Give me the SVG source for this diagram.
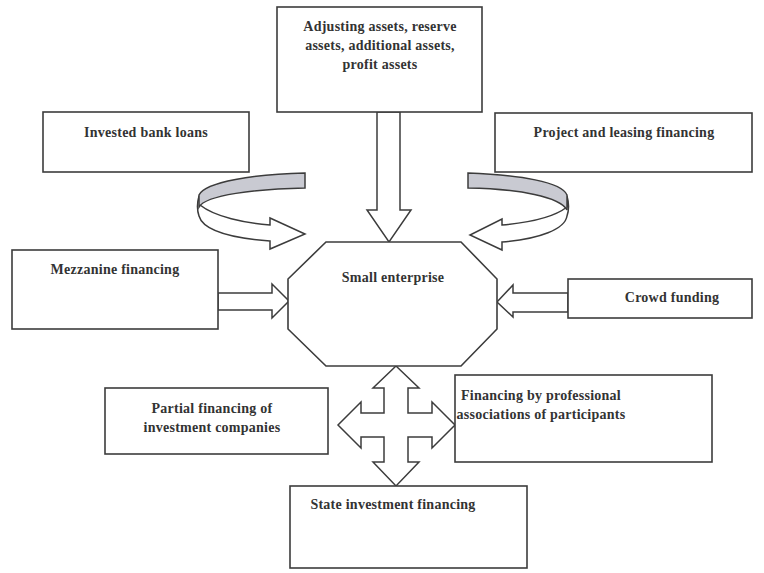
<svg xmlns="http://www.w3.org/2000/svg" width="764" height="573" viewBox="0 0 764 573">
<style>
.box{fill:#fff;stroke:#3c3c3c;stroke-width:1.6}
.ar{fill:#fff;stroke:#3c3c3c;stroke-width:1.5;stroke-linejoin:miter}
.band{fill:#c9cad2;stroke:#3c3c3c;stroke-width:1.5}
text{font-family:"Liberation Serif","Times New Roman",serif;font-weight:bold;font-size:14px;letter-spacing:0.25px;fill:#333;text-anchor:middle}
</style>
<rect width="764" height="573" fill="#fff"/>
<g id="connectors">
<path class="ar" d="M377,112 L400,112 L400,210 L411,210 L389,242 L367,210 L377,210 Z"/>
<path class="ar" d="M218,293 L272,293 L272,284 L289,301 L272,318 L272,310 L218,310 Z"/>
<path class="ar" d="M568,293 L513,293 L513,285 L497,302 L513,317 L513,312 L568,312 Z"/>
<path class="ar" d="M396,366 L419,388 L408,388 L408,413 L432,413 L432,402 L455,425 L432,448 L432,437 L408,437 L408,462 L419,462 L396,486 L373,462 L384,462 L384,437 L361,437 L361,448 L338,425 L361,402 L361,413 L384,413 L384,388 L373,388 Z"/>
<g id="curve-left">
<path class="ar" d="M200,205 C215,217 245,223 270,225 L270,218 L305,234 L270,249 L270,241 C230,238 203,230 199,216 C197,210 197,203 199,196 Z"/>
<path class="band" d="M305,173 C255,174 205,182 199,195 L199,207 C206,195 255,189 305,188 Z"/>
</g>
<g id="curve-right">
<path class="ar" d="M567,207 C553,218 525,223 502,225 L502,219 L470,235 L502,250 L502,242 C540,239 565,229 567,216 C569,210 569,203 567,196 Z"/>
<path class="band" d="M468,173 C520,175 562,182 567,195 L567,210 C560,197 520,189 468,188 Z"/>
</g>
</g>
<g id="top-box"><rect class="box" x="277" y="7" width="205" height="105"/>
<text x="380" y="31">Adjusting assets, reserve</text>
<text x="380" y="50">assets, additional assets,</text>
<text x="380" y="69">profit assets</text></g>
<g id="invested-bank-loans"><rect class="box" x="43" y="112" width="206" height="60"/>
<text x="146" y="137">Invested bank loans</text></g>
<g id="project-leasing"><rect class="box" x="495" y="113" width="257" height="59"/>
<text x="624" y="137">Project and leasing financing</text></g>
<g id="mezzanine"><rect class="box" x="12" y="250" width="206" height="79"/>
<text x="115" y="274">Mezzanine financing</text></g>
<g id="crowd-funding"><rect class="box" x="568" y="279" width="184" height="39"/>
<text x="672" y="302">Crowd funding</text></g>
<g id="small-enterprise"><polygon class="box" points="326,242 461,242 497,279 497,329 461,366 326,366 288,329 288,279"/>
<text x="393" y="282">Small enterprise</text></g>
<g id="partial-financing"><rect class="box" x="105" y="388" width="223" height="66"/>
<text x="212" y="413">Partial financing of</text>
<text x="212" y="432">investment companies</text></g>
<g id="professional-associations"><rect class="box" x="455" y="375" width="257" height="87"/>
<text x="541" y="400">Financing by professional</text>
<text x="541" y="419">associations of participants</text></g>
<g id="state-investment"><rect class="box" x="290" y="486" width="237" height="82"/>
<text x="393" y="509">State investment financing</text></g>
</svg>
